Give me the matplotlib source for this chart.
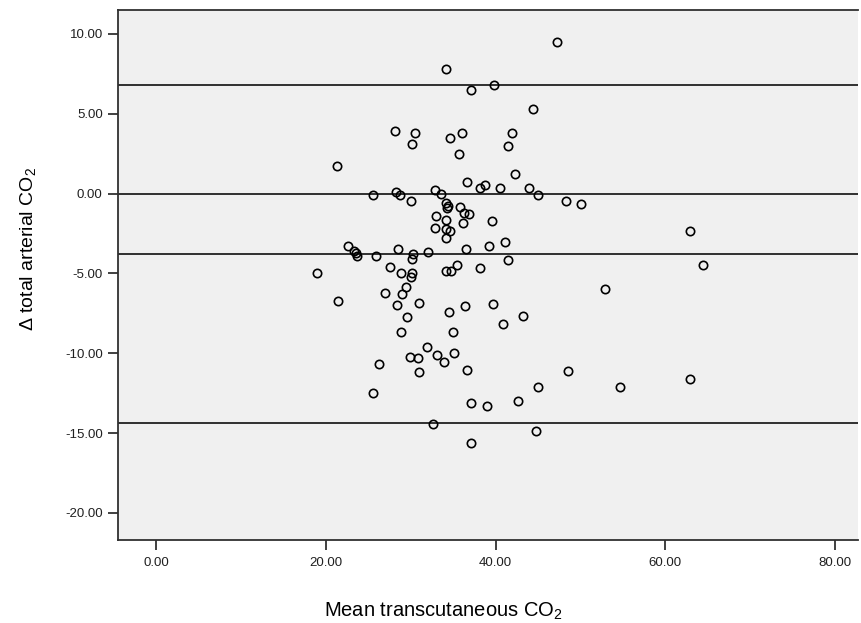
import matplotlib
matplotlib.use('Agg')
import matplotlib.pyplot as plt

# mean transcutaneous CO2 (x) and difference in total arterial CO2 (y)
mean_tc = [47.2, 34.2, 37.1, 39.8, 44.4, 28.1, 30.5, 30.1, 34.6, 36.0,
           35.7, 41.9, 41.5, 42.3, 36.6, 38.1, 38.7, 40.5, 43.9, 45.0,
           48.3, 50.1, 28.3, 28.7, 30.0, 32.9, 33.6, 25.5, 21.3, 34.1,
           34.4, 34.3, 35.8, 36.3, 36.8, 33.0, 34.1, 36.2, 39.6, 32.8,
           34.1, 34.6, 34.2, 62.9, 39.2, 41.1, 36.5, 64.4, 41.5, 38.1,
           35.5, 34.1, 34.7, 32.0, 30.3, 30.2, 28.5, 27.5, 28.9, 30.1,
           30.0, 22.6, 23.3, 23.7, 23.5, 25.9, 18.9, 21.4, 25.6, 26.3,
           27.0, 28.4, 28.9, 29.5, 29.0, 29.4, 31.0, 29.9, 30.8, 31.9,
           31.0, 33.1, 33.9, 35.1, 35.0, 34.5, 36.4, 36.6, 37.1, 32.6,
           37.1, 39.0, 39.7, 40.9, 43.2, 42.6, 45.0, 48.5, 54.6, 62.9,
           52.9, 44.7]
delta_co2 = [9.5, 7.8, 6.5, 6.8, 5.3, 3.9, 3.8, 3.1, 3.5, 3.8,
             2.5, 3.8, 3.0, 1.25, 0.7, 0.35, 0.55, 0.33, 0.33, -0.1,
             -0.44, -0.67, 0.1, -0.06, -0.44, 0.25, 0.0, -0.06, 1.7, -0.58,
             -0.75, -0.9, -0.83, -1.2, -1.3, -1.42, -1.63, -1.84, -1.7, -2.15,
             -2.25, -2.36, -2.8, -2.36, -3.26, -3.05, -3.47, -4.47, -4.13, -4.65,
             -4.45, -4.86, -4.86, -3.67, -3.8, -4.1, -3.5, -4.6, -4.97, -4.97,
             -5.25, -3.26, -3.6, -3.9, -3.7, -3.9, -5.0, -6.76, -12.5, -10.7,
             -6.2, -6.95, -8.7, -7.7, -6.3, -5.87, -6.87, -10.25, -10.33, -9.64,
             -11.2, -10.14, -10.56, -10.0, -8.66, -7.43, -7.05, -11.04, -13.1, -14.42,
             -15.6, -13.3, -6.93, -8.14, -7.66, -13.0, -12.1, -11.1, -12.1, -11.6,
             -5.97, -14.9]

# reference lines: upper limit, zero, mean difference, lower limit
ref_lines = [6.8, 0.0, -3.8, -14.4]

x_ticks = [0, 20, 40, 60, 80]
y_ticks = [10, 5, 0, -5, -10, -15, -20]

plt.rcParams['font.family'] = ['Liberation Sans', 'DejaVu Sans']
plt.rcParams['mathtext.fontset'] = 'custom'
plt.rcParams['mathtext.rm'] = 'Liberation Sans'
plt.rcParams['mathtext.it'] = 'Liberation Sans:italic'

fig = plt.figure(figsize=(8.62, 6.23), dpi=100)
ax = fig.add_axes([0.1369, 0.1332, 0.8585, 0.8508])
ax.set_facecolor('#f0f0f0')

for y in ref_lines:
    ax.axhline(y, color='#202020', linewidth=1.3, zorder=1)

ax.plot(mean_tc, delta_co2, linestyle='none', marker='o', markersize=6.0,
        markerfacecolor='none', markeredgecolor='black', markeredgewidth=1.2,
        zorder=2)

ax.set_xlim(-4.5, 82.7)
ax.set_ylim(-21.7, 11.5)
ax.set_xticks(x_ticks)
ax.set_xticklabels(['%.2f' % v for v in x_ticks])
ax.set_yticks(y_ticks)
ax.set_yticklabels(['%.2f' % v for v in y_ticks])
ax.tick_params(direction='out', length=7, width=1.2, colors='#202020', pad=4)
ax.tick_params(axis='x', labelsize=9.5, pad=5)
ax.tick_params(axis='y', labelsize=9.5)
for s in ax.spines.values():
    s.set_linewidth(1.3)
    s.set_color('#303030')
ax.spines['right'].set_visible(False)

ax.set_xlabel('Mean transcutaneous CO$_2$', fontsize=14.5)
ax.set_ylabel('\u0394 total arterial CO$_2$', fontsize=14)
ax.xaxis.set_label_coords(0.44, -0.115)
ax.yaxis.set_label_coords(-0.108, 0.55)

plt.savefig('out.png', dpi=100)
